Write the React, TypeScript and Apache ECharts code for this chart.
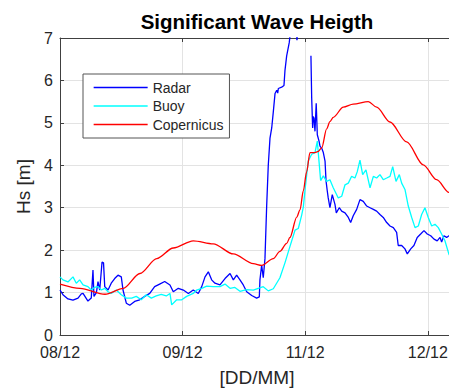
import React, { useEffect, useRef } from "react";
import * as echarts from "echarts";

// x in days since 08/12 (tick positions 0..3 carry the labels below)
const tickLabels = ["08/12", "09/12", "11/12", "12/12"];
const yTicks = [0, 1, 2, 3, 4, 5, 6, 7];
const seriesNames = ["Radar", "Buoy", "Copernicus"];

const radar: (number | null)[][] = [
  [0, 1.06], [0.024, 0.95], [0.065, 0.85], [0.106, 0.82], [0.147, 0.87], [0.174, 0.97],
  [0.188, 0.98], [0.228, 0.8], [0.255, 0.87], [0.269, 1.53], [0.277, 0.91], [0.297, 1.0],
  [0.31, 1.26], [0.324, 1.06], [0.343, 1.72], [0.355, 1.7], [0.365, 1.14], [0.392, 1.06],
  [0.418, 1.22], [0.446, 1.33], [0.473, 1.41], [0.5, 1.37], [0.514, 1.06], [0.541, 0.75],
  [0.569, 0.7], [0.609, 0.79], [0.65, 0.83], [0.691, 0.91], [0.732, 0.98], [0.772, 1.14],
  [0.813, 1.2], [0.854, 1.26], [0.897, 1.18], [0.924, 1.02], [0.965, 1.1], [1.006, 1.06],
  [1.047, 0.98], [1.087, 1.06], [1.128, 0.98], [1.156, 1.14], [1.183, 1.37], [1.21, 1.49],
  [1.237, 1.3], [1.264, 1.22], [1.305, 1.18], [1.346, 1.33], [1.387, 1.45], [1.414, 1.3],
  [1.441, 1.41], [1.468, 1.3], [1.495, 1.18], [1.523, 1.02], [1.564, 0.93], [1.604, 0.87],
  [1.626, 0.9], [1.631, 1.3], [1.645, 1.65], [1.658, 1.35], [1.672, 1.8], [1.686, 3.05],
  [1.699, 4.0], [1.713, 4.64], [1.727, 4.88], [1.74, 5.26], [1.754, 5.69], [1.768, 5.77],
  [1.776, 5.7], [1.781, 5.81], [1.808, 5.84], [1.827, 5.88], [1.835, 6.23], [1.849, 6.58],
  [1.87, 6.89], [1.89, 7.4], [1.915, 7.5], [1.933, 6.95], [1.95, 7.4], [1.975, 7.6],
  [1.99, null],
  [2.047, 6.58], [2.053, 5.6], [2.061, 4.88], [2.066, 5.15], [2.072, 5.11], [2.08, 4.8],
  [2.09, 5.46], [2.099, 4.72], [2.113, 4.57], [2.121, 4.45], [2.135, 4.4], [2.148, 4.3],
  [2.162, 4.1], [2.17, 3.64], [2.18, 3.4], [2.188, 3.23], [2.202, 3.0], [2.221, 3.31],
  [2.243, 3.08], [2.254, 2.88], [2.278, 3.0], [2.298, 2.92], [2.325, 2.88], [2.352, 2.77],
  [2.371, 2.65], [2.392, 2.81], [2.42, 2.96], [2.447, 3.19], [2.474, 3.15], [2.502, 3.04],
  [2.529, 3.0], [2.556, 2.96], [2.583, 2.92], [2.61, 2.84], [2.637, 2.77], [2.665, 2.65],
  [2.692, 2.57], [2.719, 2.53], [2.746, 2.42], [2.759, 2.11], [2.787, 2.11], [2.814, 2.03],
  [2.833, 1.91], [2.861, 2.03], [2.887, 2.11], [2.914, 2.3], [2.942, 2.38], [2.969, 2.46],
  [2.996, 2.38], [3.024, 2.34], [3.051, 2.26], [3.077, 2.22], [3.1, 2.3], [3.113, 2.19],
  [3.132, 2.34], [3.154, 2.3], [3.173, 2.34], [3.214, 2.3],
];

const buoy: number[][] = [
  [0, 1.37], [0.024, 1.3], [0.065, 1.25], [0.106, 1.37], [0.133, 1.22], [0.16, 1.3],
  [0.188, 1.18], [0.228, 1.14], [0.255, 1.06], [0.28, 1.12], [0.31, 1.14], [0.337, 1.06],
  [0.365, 1.1], [0.392, 1.02], [0.418, 0.98], [0.459, 1.06], [0.5, 0.95], [0.541, 0.87],
  [0.585, 0.87], [0.622, 0.91], [0.663, 0.83], [0.704, 0.95], [0.745, 0.87], [0.785, 0.92],
  [0.826, 0.96], [0.867, 0.92], [0.897, 0.98], [0.911, 0.71], [0.952, 0.83], [0.993, 0.83],
  [1.033, 0.91], [1.087, 0.98], [1.115, 1.06], [1.156, 1.1], [1.197, 1.15], [1.25, 1.14],
  [1.305, 1.14], [1.346, 1.2], [1.387, 1.1], [1.427, 1.12], [1.468, 1.03], [1.523, 1.07],
  [1.577, 1.06], [1.617, 1.1], [1.658, 1.14], [1.699, 1.04], [1.74, 1.09], [1.794, 1.35],
  [1.835, 1.7], [1.876, 2.09], [1.917, 2.47], [1.944, 2.51], [1.971, 2.82], [1.985, 3.02],
  [1.998, 3.4], [2.025, 4.1], [2.053, 4.26], [2.08, 4.3], [2.099, 4.57], [2.126, 3.64],
  [2.148, 3.75], [2.175, 3.62], [2.202, 3.66], [2.229, 3.47], [2.27, 3.23], [2.298, 3.27],
  [2.325, 3.54], [2.352, 3.58], [2.379, 3.74], [2.406, 3.7], [2.425, 3.85], [2.447, 4.12],
  [2.469, 3.78], [2.496, 3.89], [2.529, 3.47], [2.556, 3.74], [2.583, 3.7], [2.61, 3.78],
  [2.637, 3.66], [2.665, 3.7], [2.692, 3.74], [2.714, 3.97], [2.741, 3.62], [2.768, 3.78],
  [2.787, 3.58], [2.814, 3.43], [2.841, 3.04], [2.869, 2.77], [2.896, 2.53], [2.923, 2.57],
  [2.95, 2.84], [2.977, 3.0], [3.004, 2.77], [3.032, 2.57], [3.059, 2.61], [3.086, 2.53],
  [3.113, 2.38], [3.14, 2.22], [3.173, 1.9], [3.214, 1.75],
];

const copernicus: number[][] = [
  [0, 1.2], [0.163, 1.1], [0.367, 0.96], [0.516, 1.1], [0.652, 1.45], [0.789, 1.8],
  [0.924, 2.05], [1.087, 2.22], [1.25, 2.15], [1.414, 1.91], [1.577, 1.68], [1.645, 1.64],
  [1.74, 1.8], [1.794, 1.97], [1.849, 2.16], [1.876, 2.3], [1.931, 2.78], [1.958, 2.95],
  [1.985, 3.4], [2.012, 3.85], [2.039, 4.3], [2.08, 4.3], [2.102, 4.32], [2.135, 4.41],
  [2.175, 4.86], [2.202, 5.03], [2.229, 5.13], [2.311, 5.37], [2.392, 5.44], [2.515, 5.5],
  [2.583, 5.37], [2.692, 5.02], [2.828, 4.55], [2.963, 4.01], [3.073, 3.66], [3.173, 3.36],
  [3.214, 3.27],
];

const FONT = '"Liberation Sans", Arial, Helvetica, sans-serif';
const AX = "#404040";
const GRID = "#e3e3e3";

export default function App() {
  const ref = useRef<HTMLDivElement>(null);
  useEffect(() => {
    if (!ref.current) return;
    const chart = echarts.init(ref.current, undefined, { renderer: "svg" });
    const fmt = (v: number) => {
      const i = Math.round(v);
      return Math.abs(v - i) < 1e-6 && tickLabels[i] !== undefined ? tickLabels[i] : "";
    };
    chart.setOption({
      animation: false,
      backgroundColor: "#fff",
      textStyle: { fontFamily: FONT },
      graphic: [
        {
          type: "text",
          x: 257,
          y: 21,
          style: {
            text: "Significant Wave Heigth",
            font: `bold 20.5px ${FONT}`,
            fill: "#000",
            textAlign: "center",
            textVerticalAlign: "middle",
          },
        },
      ],
      grid: { left: 60, top: 38, right: 0, bottom: 53, containLabel: false },
      legend: {
        orient: "vertical",
        left: 83,
        top: 74,
        data: seriesNames,
        itemWidth: 54,
        itemHeight: 14,
        itemGap: 4.5,
        padding: [6.5, 6, 6.5, 10],
        borderColor: "#555",
        borderWidth: 1,
        borderRadius: 0,
        backgroundColor: "#fff",
        itemStyle: { opacity: 0 },
        lineStyle: { width: 1.3 },
        textStyle: { fontSize: 14, color: "#262626", fontFamily: FONT },
      },
      xAxis: [
        {
          type: "value",
          min: 0,
          max: 3.214,
          interval: 1,
          name: "[DD/MM]",
          nameLocation: "middle",
          nameGap: 33,
          nameTextStyle: { fontSize: 19, color: "#262626", fontFamily: FONT },
          axisLine: { show: true, lineStyle: { color: AX, width: 1 } },
          axisTick: { show: true, inside: true, length: 4, lineStyle: { color: AX } },
          axisLabel: { formatter: fmt, fontSize: 16, color: "#262626", margin: 9, showMaxLabel: false },
          splitLine: { show: true, lineStyle: { color: GRID, width: 1 } },
        },
        {
          type: "value",
          position: "top",
          min: 0,
          max: 3.214,
          interval: 1,
          axisLine: { show: true, lineStyle: { color: AX, width: 1 } },
          axisTick: { show: true, inside: true, length: 4, lineStyle: { color: AX } },
          axisLabel: { show: false },
          splitLine: { show: false },
        },
      ],
      yAxis: {
        type: "value",
        min: yTicks[0],
        max: yTicks[yTicks.length - 1],
        interval: 1,
        name: "Hs [m]",
        nameLocation: "middle",
        nameGap: 24,
        nameTextStyle: { fontSize: 19, color: "#262626", fontFamily: FONT },
        axisLine: { show: true, lineStyle: { color: AX, width: 1 } },
        axisTick: { show: true, inside: true, length: 4, lineStyle: { color: AX } },
        axisLabel: { fontSize: 16, color: "#262626", margin: 7 },
        splitLine: { show: true, lineStyle: { color: GRID, width: 1 } },
      },
      series: [
        {
          name: seriesNames[0],
          type: "line",
          data: radar,
          symbol: "none",
          showSymbol: false,
          connectNulls: false,
          color: "#0000ff",
          lineStyle: { color: "#0000ff", width: 1.3 },
        },
        {
          name: seriesNames[1],
          type: "line",
          data: buoy,
          symbol: "none",
          showSymbol: false,
          color: "#00ffff",
          lineStyle: { color: "#00ffff", width: 1.3 },
        },
        {
          name: seriesNames[2],
          type: "line",
          data: copernicus,
          symbol: "none",
          showSymbol: false,
          smooth: 0.3,
          smoothMonotone: "x",
          color: "#ff0000",
          lineStyle: { color: "#ff0000", width: 1.3 },
        },
      ],
    });
    return () => chart.dispose();
  }, []);
  return (
    <div style={{ position: "fixed", left: 0, top: 0, width: 449, height: 392, overflow: "hidden", background: "#fff" }}>
      <div ref={ref} style={{ width: 454, height: 392 }} />
    </div>
  );
}
